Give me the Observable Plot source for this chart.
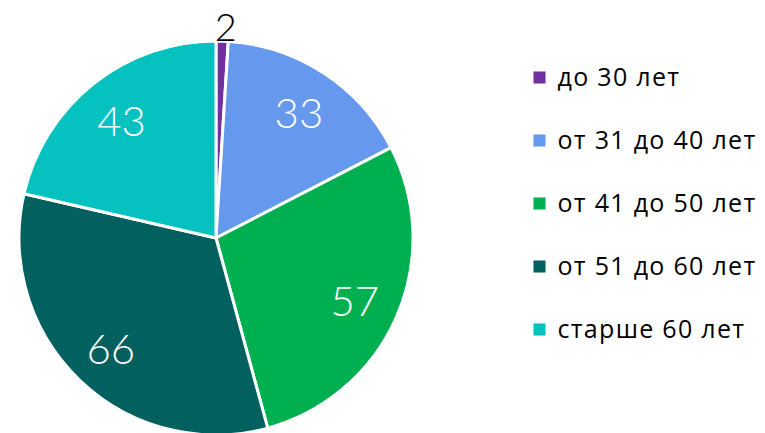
<!DOCTYPE html>
<html><head><meta charset="utf-8">
<script src="https://cdn.jsdelivr.net/npm/d3@7"></script>
<script src="https://cdn.jsdelivr.net/npm/@observablehq/plot@0.6"></script>
<style>body{margin:0;background:#fff}</style>
</head><body><div id="chart"></div>
<script>
const categories = ["до 30 лет", "от 31 до 40 лет", "от 41 до 50 лет", "от 51 до 60 лет", "старше 60 лет"];
const values = [2, 33, 57, 66, 43];
const colors = ["#7030A0", "#6699EE", "#00B050", "#02605E", "#05C2C0"];
const data = categories.map((c, i) => ({category: c, value: values[i]}));

const cx = 216, cy = 238, R = 197;

function pieMark(index, scales, vals, dims, context) {
  const g = d3.create("svg:g").attr("transform", `translate(${cx},${cy})`);
  const arcs = d3.pie().sort(null).value(d => d.value)(data);
  const arc = d3.arc().innerRadius(0).outerRadius(R);
  g.selectAll("path").data(arcs).join("path")
    .attr("d", arc)
    .attr("fill", d => scales.color(d.data.category))
    .attr("stroke", "white").attr("stroke-width", 3).attr("stroke-linejoin", "round");
  const inner = d3.arc().innerRadius(R * 0.77).outerRadius(R * 0.77);
  const outer = d3.arc().innerRadius(R * 1.08).outerRadius(R * 1.08);
  g.selectAll("text").data(arcs).join("text")
    .attr("transform", d => `translate(${(d.value < 5 ? outer : inner).centroid(d)})`)
    .attr("text-anchor", "middle")
    .attr("dx", d => d.value < 5 ? 3 : 0)
    .attr("dy", d => d.value < 5 ? "0.4em" : "0.4em")
    .attr("fill", d => d.value < 5 ? "black" : "white")
    .attr("font-family", "Lato, Inter, sans-serif")
    .attr("font-weight", 300)
    .attr("font-size", d => d.value < 5 ? 38 : 42)
    .text(d => d.data.value);
  return g.node();
}

const chart = Plot.plot({
  width: 765,
  height: 433,
  margin: 0,
  style: {background: "white", fontFamily: "'Open Sans', sans-serif"},
  y: {type: "point", domain: categories, range: [76, 330], padding: 0, axis: null},
  color: {domain: categories, range: colors},
  marks: [
    pieMark,
    Plot.dot(data, {y: "category", fill: "category", symbol: "square", r: 6.8, frameAnchor: "left", dx: 539}),
    Plot.text(data, {y: "category", text: "category", frameAnchor: "left", dx: 557, textAnchor: "start", fontSize: 25, fill: "black"})
  ]
});
chart.querySelectorAll('g[aria-label="text"] text').forEach(t => { t.style.letterSpacing = "1.3px"; });
document.getElementById("chart").append(chart);
</script>
</body></html>
